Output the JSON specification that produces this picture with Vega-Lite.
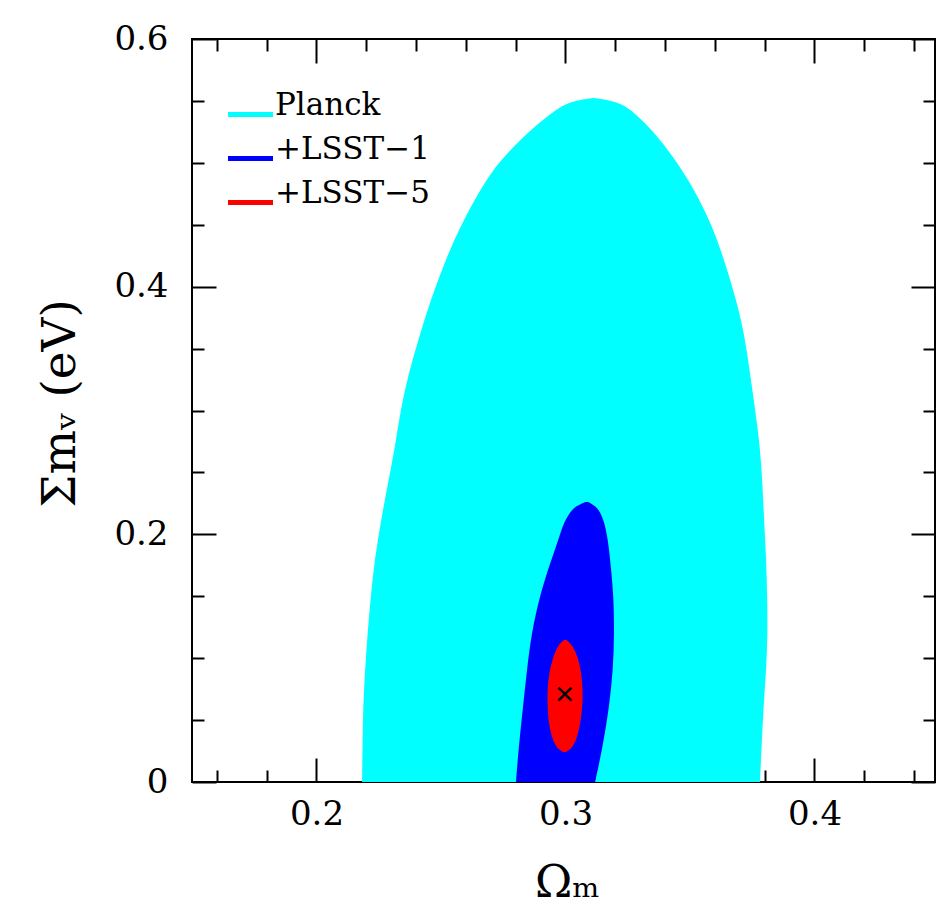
{
  "$schema": "https://vega.github.io/schema/vega-lite/v6.json",
  "width": 743,
  "height": 743,
  "autosize": {"type": "none"},
  "padding": {"left": 192, "top": 39, "right": 1, "bottom": 138},
  "background": "white",
  "config": {"view": {"stroke": "#000", "strokeWidth": 2}, "font": "DejaVu Serif"},
  "datasets": {
    "contours": [
      {"set": "Planck", "sum_mnu": 0, "omega_lo": 0.2183, "omega_hi": 0.3781},
      {"set": "Planck", "sum_mnu": 0.03, "omega_lo": 0.2185, "omega_hi": 0.3788},
      {"set": "Planck", "sum_mnu": 0.06, "omega_lo": 0.2187, "omega_hi": 0.3795},
      {"set": "Planck", "sum_mnu": 0.09, "omega_lo": 0.2195, "omega_hi": 0.3806},
      {"set": "Planck", "sum_mnu": 0.12, "omega_lo": 0.2205, "omega_hi": 0.3812},
      {"set": "Planck", "sum_mnu": 0.15, "omega_lo": 0.2218, "omega_hi": 0.381},
      {"set": "Planck", "sum_mnu": 0.18, "omega_lo": 0.2234, "omega_hi": 0.3806},
      {"set": "Planck", "sum_mnu": 0.21, "omega_lo": 0.2258, "omega_hi": 0.3798},
      {"set": "Planck", "sum_mnu": 0.24, "omega_lo": 0.2286, "omega_hi": 0.3791},
      {"set": "Planck", "sum_mnu": 0.27, "omega_lo": 0.2315, "omega_hi": 0.3782},
      {"set": "Planck", "sum_mnu": 0.3, "omega_lo": 0.2337, "omega_hi": 0.3762},
      {"set": "Planck", "sum_mnu": 0.33, "omega_lo": 0.237, "omega_hi": 0.3741},
      {"set": "Planck", "sum_mnu": 0.36, "omega_lo": 0.2413, "omega_hi": 0.372},
      {"set": "Planck", "sum_mnu": 0.39, "omega_lo": 0.246, "omega_hi": 0.3685},
      {"set": "Planck", "sum_mnu": 0.42, "omega_lo": 0.2515, "omega_hi": 0.364},
      {"set": "Planck", "sum_mnu": 0.45, "omega_lo": 0.258, "omega_hi": 0.3588},
      {"set": "Planck", "sum_mnu": 0.48, "omega_lo": 0.2662, "omega_hi": 0.3513},
      {"set": "Planck", "sum_mnu": 0.5, "omega_lo": 0.2729, "omega_hi": 0.3449},
      {"set": "Planck", "sum_mnu": 0.52, "omega_lo": 0.2825, "omega_hi": 0.3375},
      {"set": "Planck", "sum_mnu": 0.535, "omega_lo": 0.291, "omega_hi": 0.3306},
      {"set": "Planck", "sum_mnu": 0.545, "omega_lo": 0.2975, "omega_hi": 0.325},
      {"set": "Planck", "sum_mnu": 0.55, "omega_lo": 0.303, "omega_hi": 0.3195},
      {"set": "Planck", "sum_mnu": 0.5524, "omega_lo": 0.311, "omega_hi": 0.3115},
      {"set": "+LSST−1", "sum_mnu": 0, "omega_lo": 0.2801, "omega_hi": 0.3119},
      {"set": "+LSST−1", "sum_mnu": 0.03, "omega_lo": 0.2813, "omega_hi": 0.3151},
      {"set": "+LSST−1", "sum_mnu": 0.06, "omega_lo": 0.2829, "omega_hi": 0.3175},
      {"set": "+LSST−1", "sum_mnu": 0.09, "omega_lo": 0.2845, "omega_hi": 0.3191},
      {"set": "+LSST−1", "sum_mnu": 0.12, "omega_lo": 0.2863, "omega_hi": 0.3196},
      {"set": "+LSST−1", "sum_mnu": 0.15, "omega_lo": 0.2897, "omega_hi": 0.3193},
      {"set": "+LSST−1", "sum_mnu": 0.17, "omega_lo": 0.2927, "omega_hi": 0.3184},
      {"set": "+LSST−1", "sum_mnu": 0.19, "omega_lo": 0.2962, "omega_hi": 0.3174},
      {"set": "+LSST−1", "sum_mnu": 0.2, "omega_lo": 0.2978, "omega_hi": 0.3166},
      {"set": "+LSST−1", "sum_mnu": 0.21, "omega_lo": 0.2995, "omega_hi": 0.3155},
      {"set": "+LSST−1", "sum_mnu": 0.218, "omega_lo": 0.3018, "omega_hi": 0.314},
      {"set": "+LSST−1", "sum_mnu": 0.223, "omega_lo": 0.3042, "omega_hi": 0.312},
      {"set": "+LSST−1", "sum_mnu": 0.2261, "omega_lo": 0.308, "omega_hi": 0.3092},
      {"set": "+LSST−5", "sum_mnu": 0.0243, "omega_lo": 0.299, "omega_hi": 0.3002},
      {"set": "+LSST−5", "sum_mnu": 0.028, "omega_lo": 0.2962, "omega_hi": 0.303},
      {"set": "+LSST−5", "sum_mnu": 0.036, "omega_lo": 0.2945, "omega_hi": 0.3047},
      {"set": "+LSST−5", "sum_mnu": 0.048, "omega_lo": 0.2932, "omega_hi": 0.306},
      {"set": "+LSST−5", "sum_mnu": 0.06, "omega_lo": 0.2928, "omega_hi": 0.3068},
      {"set": "+LSST−5", "sum_mnu": 0.074, "omega_lo": 0.2927, "omega_hi": 0.307},
      {"set": "+LSST−5", "sum_mnu": 0.088, "omega_lo": 0.2934, "omega_hi": 0.3064},
      {"set": "+LSST−5", "sum_mnu": 0.101, "omega_lo": 0.295, "omega_hi": 0.305},
      {"set": "+LSST−5", "sum_mnu": 0.111, "omega_lo": 0.2972, "omega_hi": 0.3026},
      {"set": "+LSST−5", "sum_mnu": 0.1147, "omega_lo": 0.2994, "omega_hi": 0.3004}
    ],
    "fiducial": [{"omega_m": 0.2998, "sum_mnu": 0.071}]
  },
  "data": {"name": "contours"},
  "layer": [
    {
      "transform": [{"filter": "datum.set === 'Planck'"}],
      "mark": {"type": "area", "orient": "horizontal", "interpolate": "basis", "clip": true, "opacity": 1},
      "encoding": {
        "y": {
          "field": "sum_mnu", "type": "quantitative",
          "scale": {"domain": [0, 0.6], "nice": false, "zero": false},
          "axis": {
            "orient": "left",
            "values": [0, 0.05, 0.1, 0.15, 0.2, 0.25, 0.3, 0.35, 0.4, 0.45, 0.5, 0.55, 0.6],
            "tickSize": {"condition": {"test": "abs(datum.value*5-round(datum.value*5))<1e-6", "value": -24}, "value": -12},
            "tickWidth": 2, "tickColor": "#000", "domain": false, "grid": false,
            "format": ".1~f",
            "labelExpr": "abs(datum.value*5-round(datum.value*5))<1e-6 ? datum.label : ''",
            "labelFont": "DejaVu Serif", "labelFontSize": 34, "labelColor": "#000", "labelPadding": 48,
            "labelOverlap": false, "labelFlush": false, "labelBound": false,
            "title": "Σmᵥ (eV)", "titleFont": "DejaVu Serif", "titleFontSize": 47, "titleFontWeight": "normal", "titleColor": "#000",
            "titleAngle": -90, "titleX": -132, "titleY": 364, "titleBaseline": "middle", "titleAlign": "center"
          }
        },
        "x": {
          "field": "omega_lo", "type": "quantitative",
          "scale": {"domain": [0.15, 0.4484], "nice": false, "zero": false},
          "axis": {
            "orient": "bottom",
            "values": [0.16, 0.18, 0.2, 0.22, 0.24, 0.26, 0.28, 0.3, 0.32, 0.34, 0.36, 0.38, 0.4, 0.42, 0.44],
            "tickSize": {"condition": {"test": "abs(datum.value*10-round(datum.value*10))<1e-6", "value": -24}, "value": -12},
            "tickWidth": 2, "tickColor": "#000", "domain": false, "grid": false,
            "format": ".1~f",
            "labelExpr": "abs(datum.value*10-round(datum.value*10))<1e-6 ? datum.label : ''",
            "labelFont": "DejaVu Serif", "labelFontSize": 34, "labelColor": "#000", "labelPadding": 39,
            "labelOverlap": false, "labelFlush": false, "labelBound": false,
            "title": "Ωₘ", "titleFont": "DejaVu Serif", "titleFontSize": 45, "titleFontWeight": "normal", "titleColor": "#000",
            "titleX": 375, "titleY": 114, "titleBaseline": "alphabetic", "titleAlign": "center"
          }
        },
        "x2": {"field": "omega_hi"},
        "color": {
          "field": "set", "type": "nominal",
          "scale": {"domain": ["Planck", "+LSST−1", "+LSST−5"], "range": ["#00FFFF", "#0000FF", "#FF0000"]},
          "legend": {
            "title": null, "orient": "none", "legendX": 36, "legendY": 53,
            "symbolType": "M-1,-0.11L1,-0.11L1,0.11L-1,0.11Z", "symbolSize": 2025, "symbolStrokeWidth": 0, "symbolOpacity": 1,
            "labelFont": "DejaVu Serif", "labelFontSize": 31, "labelColor": "#000", "labelBaseline": "alphabetic",
            "labelOffset": 2, "rowPadding": 12, "padding": 0, "labelLimit": 400
          }
        }
      }
    },
    {
      "transform": [{"filter": "datum.set === '+LSST−1'"}],
      "mark": {"type": "area", "orient": "horizontal", "interpolate": "basis", "clip": true, "opacity": 1},
      "encoding": {
        "y": {
          "field": "sum_mnu", "type": "quantitative",
          "axis": {
            "orient": "right",
            "values": [0, 0.05, 0.1, 0.15, 0.2, 0.25, 0.3, 0.35, 0.4, 0.45, 0.5, 0.55, 0.6],
            "tickSize": {"condition": {"test": "abs(datum.value*5-round(datum.value*5))<1e-6", "value": -24}, "value": -12},
            "tickWidth": 2, "tickColor": "#000", "domain": false, "grid": false, "labels": false, "title": null
          }
        },
        "x": {
          "field": "omega_lo", "type": "quantitative",
          "axis": {
            "orient": "top",
            "values": [0.16, 0.18, 0.2, 0.22, 0.24, 0.26, 0.28, 0.3, 0.32, 0.34, 0.36, 0.38, 0.4, 0.42, 0.44],
            "tickSize": {"condition": {"test": "abs(datum.value*10-round(datum.value*10))<1e-6", "value": -24}, "value": -12},
            "tickWidth": 2, "tickColor": "#000", "domain": false, "grid": false, "labels": false, "title": null
          }
        },
        "x2": {"field": "omega_hi"},
        "color": {"field": "set", "type": "nominal", "legend": null}
      }
    },
    {
      "transform": [{"filter": "datum.set === '+LSST−5'"}],
      "mark": {"type": "area", "orient": "horizontal", "interpolate": "basis", "clip": true, "opacity": 1},
      "encoding": {
        "y": {"field": "sum_mnu", "type": "quantitative", "axis": null},
        "x": {"field": "omega_lo", "type": "quantitative", "axis": null},
        "x2": {"field": "omega_hi"},
        "color": {"field": "set", "type": "nominal", "legend": null}
      }
    },
    {
      "data": {"name": "fiducial"},
      "mark": {"type": "point", "shape": "M-1,-1L1,1M-1,1L1,-1", "filled": false, "stroke": "#000", "strokeWidth": 2.5, "size": 170, "opacity": 1},
      "encoding": {
        "x": {"field": "omega_m", "type": "quantitative", "axis": null},
        "y": {"field": "sum_mnu", "type": "quantitative", "axis": null}
      }
    }
  ],
  "resolve": {"axis": {"x": "independent", "y": "independent"}}
}
